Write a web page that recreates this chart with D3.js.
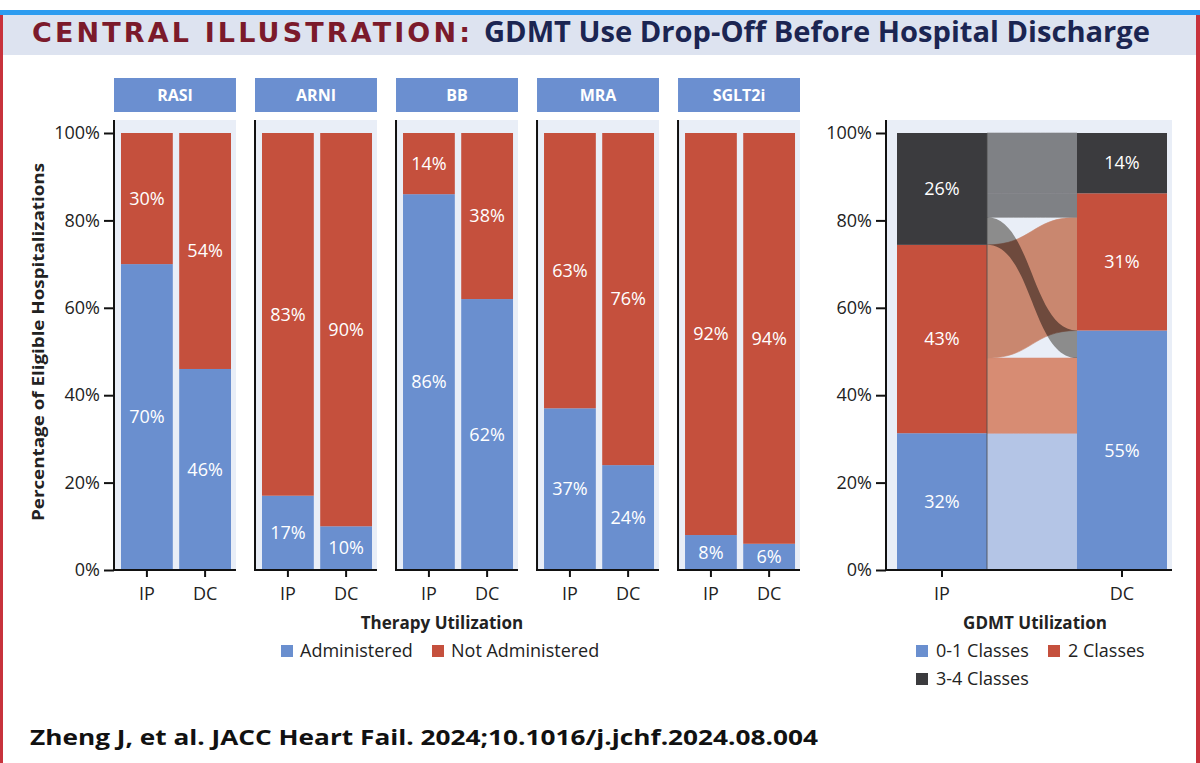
<!DOCTYPE html>
<html>
<head>
<meta charset="utf-8">
<script src="https://cdn.jsdelivr.net/npm/d3@7"></script>
<style>
  body { margin: 0; background: #fff; }
  svg { display: block; }
  text { font-family: "Open Sans", "Noto Sans", sans-serif; }
</style>
</head>
<body>
<svg id="chart" width="1200" height="763"></svg>
<script>
// data
var drugs = ["RASI", "ARNI", "BB", "MRA", "SGLT2i"];
var stages = ["IP", "DC"];
var administered = [[70, 46], [17, 10], [86, 62], [37, 24], [8, 6]];
var notAdministered = [[30, 54], [83, 90], [14, 38], [63, 76], [92, 94]];
var yTicks = [0, 20, 40, 60, 80, 100];

var classes = ["0-1", "2", "3-4"];
var classNames = ["0-1 Classes", "2 Classes", "3-4 Classes"];
var ipClassValues = [31.3, 43.1, 25.6];
var dcClassValues = [54.8, 31.4, 13.8];
var ipClassLabels = ["32%", "43%", "26%"];
var dcClassLabels = ["55%", "31%", "14%"];
var flowFrom = ["0-1", "2", "2", "3-4", "3-4", "3-4"];
var flowTo = ["0-1", "0-1", "2", "0-1", "2", "3-4"];
var flowValues = [31.3, 17.2, 25.9, 6.3, 5.5, 13.8];

var blue = "#6a8fcf", red = "#c5503d", dark = "#3b3b3e";
var panelBg = "#e9eef7";

var svg = d3.select("#chart");

// frame + title band
svg.append("rect").attr("x", 0).attr("y", 10).attr("width", 1200).attr("height", 5).attr("fill", "#2d9cf0");
svg.append("rect").attr("x", 3).attr("y", 15).attr("width", 1193).attr("height", 40).attr("fill", "#dde3f0");
svg.append("rect").attr("x", 0).attr("y", 15).attr("width", 3).attr("height", 748).attr("fill", "#c8323c");
svg.append("rect").attr("x", 1196).attr("y", 15).attr("width", 4).attr("height", 748).attr("fill", "#c8323c");

svg.append("text").attr("x", 32).attr("y", 42)
  .attr("font-size", 27).attr("font-weight", "bold").attr("fill", "#7b1a2b")
  .style("font-family", "'DejaVu Sans', sans-serif")
  .attr("textLength", 438).attr("lengthAdjust", "spacing")
  .text("CENTRAL ILLUSTRATION:");
svg.append("text").attr("x", 484).attr("y", 42)
  .attr("font-size", 28).attr("font-weight", "bold").attr("fill", "#1b2552")
  .attr("textLength", 666).attr("lengthAdjust", "spacingAndGlyphs")
  .text("GDMT Use Drop-Off Before Hospital Discharge");

// scales
var y = d3.scaleLinear().domain([0, 100]).range([570, 133]);
var panelX = d3.scaleBand().domain(drugs).range([114, 800]).paddingInner(0.135);
var barX = d3.scaleBand().domain(stages).range([7, 117]).paddingInner(0.11);
var pw = panelX.bandwidth();

// y axis title
svg.append("text")
  .attr("transform", "translate(44,342) rotate(-90)")
  .attr("text-anchor", "middle")
  .attr("font-size", 16).attr("font-weight", "bold").attr("fill", "#222")
  .attr("textLength", 358).attr("lengthAdjust", "spacingAndGlyphs")
  .text("Percentage of Eligible Hospitalizations");

function styleAxis(g) {
  g.select(".domain").remove();
  g.selectAll(".tick line").attr("stroke", "#111").attr("stroke-width", 2);
  g.selectAll(".tick text").attr("fill", "#222").attr("font-size", 18)
    .style("font-family", "'Open Sans', sans-serif");
}

// left y axis
svg.append("g")
  .attr("transform", "translate(114,0)")
  .call(d3.axisLeft(y).tickValues(yTicks).tickFormat(function(d){ return d + "%"; }).tickSize(10).tickPadding(4))
  .call(styleAxis);

drugs.forEach(function(d, i) {
  var g = svg.append("g").attr("transform", "translate(" + panelX(d) + ",0)");
  g.append("rect").attr("y", 120).attr("width", pw).attr("height", 450).attr("fill", panelBg);

  // header
  g.append("rect").attr("y", 78).attr("width", pw).attr("height", 34).attr("fill", "#6b8fd0");
  g.append("text").attr("x", pw / 2).attr("y", 101).attr("text-anchor", "middle")
    .attr("font-size", 16).attr("font-weight", "bold").attr("fill", "#fff").text(d);

  stages.forEach(function(s, j) {
    var a = administered[i][j], n = notAdministered[i][j];
    g.append("rect").attr("x", barX(s)).attr("width", barX.bandwidth())
      .attr("y", y(a)).attr("height", y(0) - y(a)).attr("fill", blue);
    g.append("rect").attr("x", barX(s)).attr("width", barX.bandwidth())
      .attr("y", y(a + n)).attr("height", y(a) - y(a + n)).attr("fill", red);
    g.append("text").attr("x", barX(s) + barX.bandwidth() / 2).attr("y", y(a / 2))
      .attr("dy", "0.35em").attr("text-anchor", "middle")
      .attr("font-size", 18).attr("fill", "#fff").text(a + "%");
    g.append("text").attr("x", barX(s) + barX.bandwidth() / 2).attr("y", y(a + n / 2))
      .attr("dy", "0.35em").attr("text-anchor", "middle")
      .attr("font-size", 18).attr("fill", "#fff").text(n + "%");
  });

  // axes
  g.append("g").attr("transform", "translate(0,570)")
    .call(d3.axisBottom(barX).tickSize(7).tickPadding(10))
    .call(styleAxis);
  g.append("line").attr("x1", 0).attr("x2", 0).attr("y1", 120).attr("y2", 571)
    .attr("stroke", "#111").attr("stroke-width", 2);
  g.append("line").attr("x1", -1).attr("x2", pw).attr("y1", 570).attr("y2", 570)
    .attr("stroke", "#111").attr("stroke-width", 2);
});

svg.append("text").attr("x", 442).attr("y", 629).attr("text-anchor", "middle")
  .attr("font-size", 17).attr("font-weight", "bold").attr("fill", "#222").text("Therapy Utilization");

var leftLegend = [["Administered", blue, 281], ["Not Administered", red, 432]];
leftLegend.forEach(function(l) {
  svg.append("rect").attr("x", l[2]).attr("y", 645).attr("width", 12).attr("height", 12).attr("fill", l[1]);
  svg.append("text").attr("x", l[2] + 19).attr("y", 657).attr("font-size", 18).attr("fill", "#222").text(l[0]);
});

// ---- alluvial panel ----
var rx0 = 886, rx1 = 1172;
var stageX = d3.scaleBand().domain(stages).range([897, 1167]).paddingInner(0.5);
var classColor = d3.scaleOrdinal().domain(classes).range([blue, red, dark]);

svg.append("rect").attr("x", rx0).attr("y", 120).attr("width", rx1 - rx0).attr("height", 450).attr("fill", panelBg);

// flows: stacked by source on IP side, by target on DC side
var flows = flowValues.map(function(v, k) {
  return { from: flowFrom[k], to: flowTo[k], v: v };
});
var srcOrder = flows.slice().sort(function(a, b) {
  return classes.indexOf(a.from) - classes.indexOf(b.from) || classes.indexOf(a.to) - classes.indexOf(b.to);
});
var acc = 0;
srcOrder.forEach(function(f) { f.a0 = acc; acc += f.v; f.a1 = acc; });
var tgtOrder = flows.slice().sort(function(a, b) {
  return classes.indexOf(a.to) - classes.indexOf(b.to) || classes.indexOf(a.from) - classes.indexOf(b.from);
});
acc = 0;
tgtOrder.forEach(function(f) { f.b0 = acc; acc += f.v; f.b1 = acc; });

var fx0 = stageX("IP") + stageX.bandwidth(), fx1 = stageX("DC");
function ribbon(f) {
  var xm = (fx0 + fx1) / 2;
  var t0 = y(f.a1), t1 = y(f.b1), b0 = y(f.a0), b1 = y(f.b0);
  return "M" + fx0 + "," + t0 + "C" + xm + "," + t0 + " " + xm + "," + t1 + " " + fx1 + "," + t1 +
    "L" + fx1 + "," + b1 + "C" + xm + "," + b1 + " " + xm + "," + b0 + " " + fx0 + "," + b0 + "Z";
}
function flowColor(f) {
  if (f.from === "0-1") return "#b4c5e6";
  if (f.from === "2") return f.to === "0-1" ? "#d78c73" : "#c9876f";
  return f.to === "0-1" ? "#8c8c8c" : "#7f8185";
}
function isCross(f) { return f.from === "3-4" && f.to === "0-1"; }
var flowG = svg.append("g").style("isolation", "isolate");
flowG.selectAll("path.flat").data(flows.filter(function(f){ return !isCross(f); }))
  .enter().append("path").attr("class", "flat").attr("d", ribbon).attr("fill", flowColor)
  .attr("stroke", flowColor).attr("stroke-width", 0.6);
flowG.selectAll("path.cross").data(flows.filter(isCross))
  .enter().append("path").attr("class", "cross").attr("d", ribbon).attr("fill", flowColor)
  .style("mix-blend-mode", "multiply");

// stacked class bars
[[ "IP", ipClassValues, ipClassLabels ], [ "DC", dcClassValues, dcClassLabels ]].forEach(function(st) {
  var base = 0;
  st[1].forEach(function(v, k) {
    svg.append("rect").attr("x", stageX(st[0])).attr("width", stageX.bandwidth())
      .attr("y", y(base + v)).attr("height", y(base) - y(base + v)).attr("fill", classColor(classes[k]));
    svg.append("text").attr("x", stageX(st[0]) + stageX.bandwidth() / 2).attr("y", y(base + v / 2))
      .attr("dy", "0.35em").attr("text-anchor", "middle").attr("font-size", 18).attr("fill", "#fff")
      .text(st[2][k]);
    base += v;
  });
});
svg.append("line").attr("x1", fx0).attr("x2", fx0).attr("y1", y(0)).attr("y2", y(100))
  .attr("stroke", "#4a4a4a").attr("stroke-width", 0.8);

svg.append("g").attr("transform", "translate(" + rx0 + ",0)")
  .call(d3.axisLeft(y).tickValues(yTicks).tickFormat(function(d){ return d + "%"; }).tickSize(10).tickPadding(4))
  .call(styleAxis);
svg.append("g").attr("transform", "translate(0,570)")
  .call(d3.axisBottom(stageX).tickSize(7).tickPadding(10))
  .call(styleAxis);
svg.append("line").attr("x1", rx0).attr("x2", rx0).attr("y1", 120).attr("y2", 571)
  .attr("stroke", "#111").attr("stroke-width", 2);
svg.append("line").attr("x1", rx0 - 1).attr("x2", rx1).attr("y1", 570).attr("y2", 570)
  .attr("stroke", "#111").attr("stroke-width", 2);

svg.append("text").attr("x", 1035).attr("y", 629).attr("text-anchor", "middle")
  .attr("font-size", 17).attr("font-weight", "bold").attr("fill", "#222").text("GDMT Utilization");

var rightLegend = [[0, 916, 651], [1, 1048, 651], [2, 916, 679]];
rightLegend.forEach(function(l) {
  svg.append("rect").attr("x", l[1]).attr("y", l[2] - 6).attr("width", 12).attr("height", 12)
    .attr("fill", classColor(classes[l[0]]));
  svg.append("text").attr("x", l[1] + 20).attr("y", l[2] + 6).attr("font-size", 18).attr("fill", "#222")
    .text(classNames[l[0]]);
});

// citation
svg.append("text").attr("x", 30).attr("y", 745)
  .attr("font-size", 22).attr("font-weight", "bold").attr("fill", "#111")
  .attr("textLength", 788).attr("lengthAdjust", "spacingAndGlyphs")
  .text("Zheng J, et al. JACC Heart Fail. 2024;10.1016/j.jchf.2024.08.004");
</script>
</body>
</html>
